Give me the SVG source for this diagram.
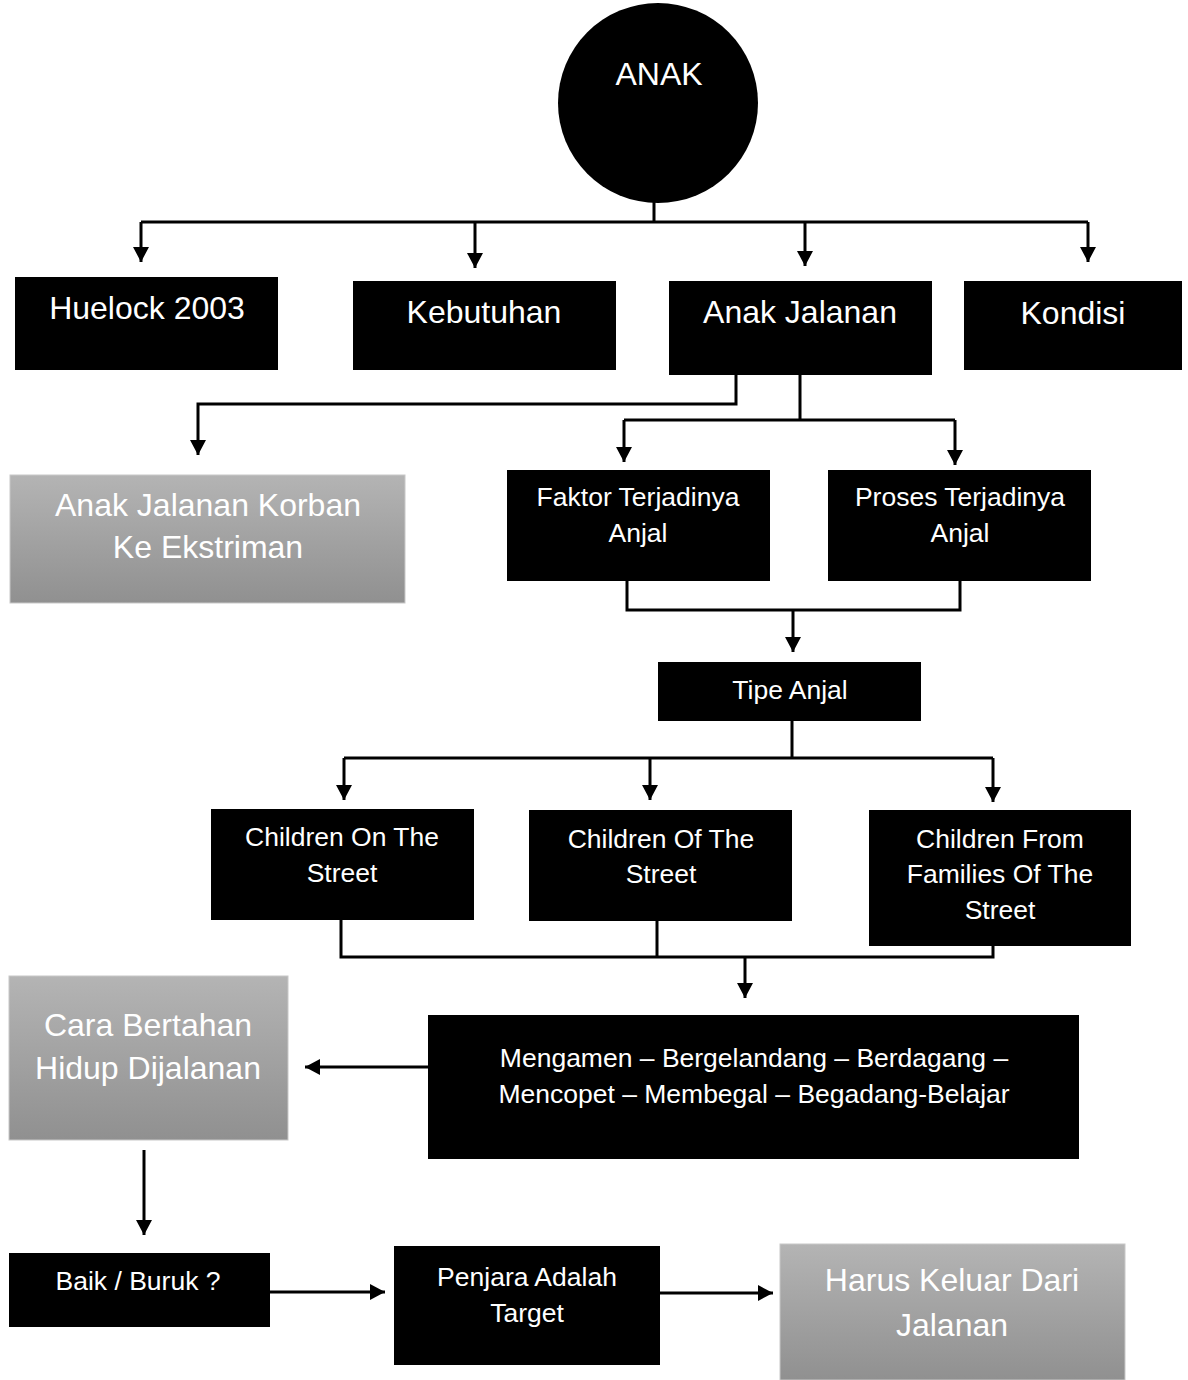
<svg xmlns="http://www.w3.org/2000/svg" width="1188" height="1380" viewBox="0 0 1188 1380">
<style>
.box{fill:#000}
.gray{fill:url(#g);stroke:#c8c8c8;stroke-width:1}
.t{font-family:"Liberation Sans",Arial,sans-serif;fill:#fff;text-anchor:middle}
.L{font-size:32px}
.M{font-size:26.5px}
.c{fill:none;stroke:#000;stroke-width:3}
</style>
<defs>
<linearGradient id="g" x1="0" y1="0" x2="0" y2="1">
<stop offset="0" stop-color="#b4b4b4"/>
<stop offset="1" stop-color="#909090"/>
</linearGradient>
<marker id="a" markerUnits="userSpaceOnUse" markerWidth="18" markerHeight="18" refX="15" refY="8" orient="auto">
<path d="M0,0 L15,8 L0,16 Z" fill="#000"/>
</marker>
</defs>
<g id="connectors">
<path class="c" d="M654,195 V222 M141,222 H1088"/>
<path class="c" d="M141,222 V262" marker-end="url(#a)"/>
<path class="c" d="M475,222 V268" marker-end="url(#a)"/>
<path class="c" d="M805,222 V266" marker-end="url(#a)"/>
<path class="c" d="M1088,222 V262" marker-end="url(#a)"/>
<path class="c" d="M736,375 V404 H198 V455" marker-end="url(#a)"/>
<path class="c" d="M800,375 V420 M624,420 H955"/>
<path class="c" d="M624,420 V462" marker-end="url(#a)"/>
<path class="c" d="M955,420 V465" marker-end="url(#a)"/>
<path class="c" d="M627,581 V610 H960 V581"/>
<path class="c" d="M793,610 V652" marker-end="url(#a)"/>
<path class="c" d="M792,721 V758 M344,758 H993"/>
<path class="c" d="M344,758 V800" marker-end="url(#a)"/>
<path class="c" d="M650,758 V800" marker-end="url(#a)"/>
<path class="c" d="M993,758 V802" marker-end="url(#a)"/>
<path class="c" d="M341,920 V957 H993 V946 M657,921 V957"/>
<path class="c" d="M745,957 V998" marker-end="url(#a)"/>
<path class="c" d="M428,1067 H305" marker-end="url(#a)"/>
<path class="c" d="M144,1150 V1235" marker-end="url(#a)"/>
<path class="c" d="M270,1292 H385" marker-end="url(#a)"/>
<path class="c" d="M660,1293 H773" marker-end="url(#a)"/>
</g>
<g id="anak"><circle cx="658" cy="103" r="100" fill="#000"/><text class="t L" x="659" y="85">ANAK</text></g>
<g id="huelock"><rect class="box" x="15" y="277" width="263" height="93"/><text class="t L" x="147" y="319">Huelock 2003</text></g>
<g id="kebutuhan"><rect class="box" x="353" y="281" width="263" height="89"/><text class="t L" x="484" y="323">Kebutuhan</text></g>
<g id="anakjalanan"><rect class="box" x="669" y="281" width="263" height="94"/><text class="t L" x="800" y="323">Anak Jalanan</text></g>
<g id="kondisi"><rect class="box" x="964" y="281" width="218" height="89"/><text class="t L" x="1073" y="324">Kondisi</text></g>
<g id="korban"><rect class="gray" x="10" y="475" width="395" height="128"/><text class="t L" x="208" y="516">Anak Jalanan Korban</text><text class="t L" x="208" y="558">Ke Ekstriman</text></g>
<g id="faktor"><rect class="box" x="507" y="470" width="263" height="111"/><text class="t M" x="638" y="506">Faktor Terjadinya</text><text class="t M" x="638" y="542">Anjal</text></g>
<g id="proses"><rect class="box" x="828" y="470" width="263" height="111"/><text class="t M" x="960" y="506">Proses Terjadinya</text><text class="t M" x="960" y="542">Anjal</text></g>
<g id="tipe"><rect class="box" x="658" y="662" width="263" height="59"/><text class="t M" x="790" y="699">Tipe Anjal</text></g>
<g id="on"><rect class="box" x="211" y="809" width="263" height="111"/><text class="t M" x="342" y="846">Children On The</text><text class="t M" x="342" y="882">Street</text></g>
<g id="of"><rect class="box" x="529" y="810" width="263" height="111"/><text class="t M" x="661" y="848">Children Of The</text><text class="t M" x="661" y="883">Street</text></g>
<g id="from"><rect class="box" x="869" y="810" width="262" height="136"/><text class="t M" x="1000" y="848">Children From</text><text class="t M" x="1000" y="883">Families Of The</text><text class="t M" x="1000" y="919">Street</text></g>
<g id="mengamen"><rect class="box" x="428" y="1015" width="651" height="144"/><text class="t M" x="754" y="1067">Mengamen – Bergelandang – Berdagang –</text><text class="t M" x="754" y="1103">Mencopet – Membegal – Begadang-Belajar</text></g>
<g id="cara"><rect class="gray" x="9" y="976" width="279" height="164"/><text class="t L" x="148" y="1036">Cara Bertahan</text><text class="t L" x="148" y="1079">Hidup Dijalanan</text></g>
<g id="baik"><rect class="box" x="9" y="1253" width="261" height="74"/><text class="t M" x="138" y="1290">Baik / Buruk ?</text></g>
<g id="penjara"><rect class="box" x="394" y="1246" width="266" height="119"/><text class="t M" x="527" y="1286">Penjara Adalah</text><text class="t M" x="527" y="1322">Target</text></g>
<g id="harus"><rect class="gray" x="780" y="1244" width="345" height="136"/><text class="t L" x="952" y="1291">Harus Keluar Dari</text><text class="t L" x="952" y="1336">Jalanan</text></g>
</svg>
